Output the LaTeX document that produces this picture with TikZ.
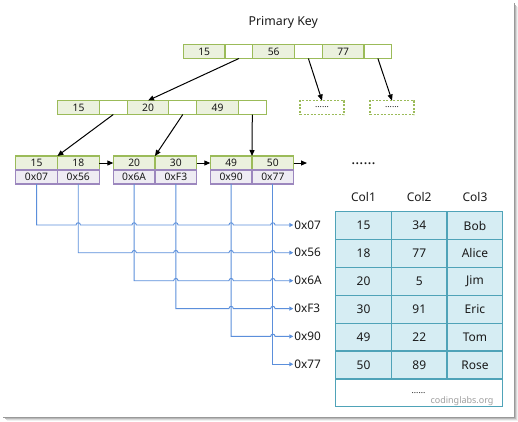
\documentclass[tikz,border=0pt]{standalone}
\usepackage{fontspec}
\setmainfont{Noto Sans}
\usetikzlibrary{arrows.meta,calc}
\definecolor{kgreen}{HTML}{9BBB59}
\definecolor{kfill}{HTML}{EBF1DE}
\definecolor{purp}{HTML}{9C87BE}
\definecolor{pfill}{HTML}{EEECF3}
\definecolor{blu}{HTML}{5B8FDB}
\definecolor{tfill}{HTML}{D6EDF3}
\definecolor{tline}{HTML}{4FA3B8}
\definecolor{txt}{HTML}{1A1A1A}
\begin{document}
\begin{tikzpicture}[x=1pt,y=-1pt,
  every node/.style={text=txt},
  cellbase/.style={line width=1.1pt, inner sep=0pt, outer sep=0pt, minimum height=14pt, anchor=west,
    font=\fontsize{10.3}{11}\selectfont},
  kc/.style={cellbase, draw=kgreen, fill=kfill, minimum width=41.7pt},
  pc/.style={cellbase, draw=kgreen, fill=white, minimum width=27.8pt},
  dc/.style={cellbase, draw=purp, fill=pfill, minimum width=41.7pt},
  dashbox/.style={cellbase, draw=kgreen, dash pattern=on 2pt off 1.5pt, fill=white, minimum width=44pt, font=\fontsize{8.5}{10}\selectfont},
  blk/.style={line width=1pt, -{Triangle[length=6pt,width=5pt]}},
  bl/.style={line width=0.9pt, draw=blu, -{Triangle[length=4pt,width=4pt]}},
  addr/.style={anchor=west, inner sep=0pt, outer sep=0pt, font=\fontsize{11.8}{13}\selectfont},
  tc/.style={fill=tfill, minimum width=55.7pt, minimum height=27.86pt,
    inner sep=0pt, outer sep=0pt, anchor=north west, font=\fontsize{12}{13}\selectfont},
  grid/.style={draw=tline, line width=1.3pt},
  hd/.style={font=\fontsize{12}{13}\selectfont, inner sep=0pt}
]
\fill[white] (0,0) rectangle (518,421);
\useasboundingbox (0,0) rectangle (518,421);

% frame shadow
\draw[gray!80, line width=1pt] (514,3) -- (514,417) -- (3,417);
\draw[gray!55, line width=1pt] (515.2,5) -- (515.2,418.2) -- (5,418.2);
\draw[gray!30, line width=1pt] (516.4,6) -- (516.4,419.4) -- (6,419.4);
\draw[gray!12, line width=1pt] (517.5,7) -- (517.5,420.5) -- (7,420.5);

% title
\node[font=\fontsize{12.3}{14}\selectfont, inner sep=0pt] (title) at (283.3,22.7) {Primary Key};

% root
\node[kc] (t1) at (183.3,51.5) {15};
\node[pc] (t2) at (225,51.5) {};
\node[kc] (t3) at (252.8,51.5) {56};
\node[pc] (t4) at (294.5,51.5) {};
\node[kc] (t5) at (322.3,51.5) {77};
\node[pc] (t6) at (364,51.5) {};

% level 2
\node[kc] (m1) at (57.7,107.5) {15};
\node[pc] (m2) at (99.4,107.5) {};
\node[kc] (m3) at (127.2,107.5) {20};
\node[pc] (m4) at (168.9,107.5) {};
\node[kc] (m5) at (196.7,107.5) {49};
\node[pc] (m6) at (238.4,107.5) {};

\node[dashbox] (x1) at (300,107.5) {......};
\node[dashbox] (x2) at (370,107.5) {......};

% leaves
\node[kc] (k1) at (15.7,163) {15};
\node[kc] (k2) at (57.4,163) {18};
\node[kc] (k3) at (113.3,163) {20};
\node[kc] (k4) at (155,163) {30};
\node[kc] (k5) at (210.3,163) {49};
\node[kc] (k6) at (252,163) {50};
\node[dc] (d1) at (15.7,177) {0x07};
\node[dc] (d2) at (57.4,177) {0x56};
\node[dc] (d3) at (113.3,177) {0x6A};
\node[dc] (d4) at (155,177) {0xF3};
\node[dc] (d5) at (210.3,177) {0x90};
\node[dc] (d6) at (252,177) {0x77};
\coordinate (lend) at (307,163);

% black arrows
\draw[blk] (t2.south) -- (m3.north);
\draw[blk] (t4.south) -- (x1.north);
\draw[blk] (t6.south) -- (x2.north);
\draw[blk] (m2.south) -- (k1.north east);
\draw[blk] (m4.south) -- (k3.north east);
\draw[blk] (m6.south) -- (k5.north east);
\draw[blk] (k2.east) -- (k3.west);
\draw[blk] (k4.east) -- (k5.west);
\draw[blk] (k6.east) -- (lend);

% address labels
\node[addr] (a1) at (294.3,225) {0x07};
\node[addr] (a2) at (294.3,252.7) {0x56};
\node[addr] (a3) at (294.3,280.7) {0x6A};
\node[addr] (a4) at (294.3,308.6) {0xF3};
\node[addr] (a5) at (294.3,336.4) {0x90};
\node[addr] (a6) at (294.3,364.2) {0x77};

% blue pointer lines with hops
\draw[bl] (d1.south) -- (d1.south |- a1.west)
  \foreach \j in {2,3,4,5,6}{ -- ($(d\j.south |- a1.west)+(-2.2pt,0)$) .. controls +(0,-3) and +(0,-3) .. ($(d\j.south |- a1.west)+(2.2pt,0)$)}
  -- ($(a1.west)+(-1pt,0)$);
\draw[bl] (d2.south) -- (d2.south |- a2.west)
  \foreach \j in {3,4,5,6}{ -- ($(d\j.south |- a2.west)+(-2.2pt,0)$) .. controls +(0,-3) and +(0,-3) .. ($(d\j.south |- a2.west)+(2.2pt,0)$)}
  -- ($(a2.west)+(-1pt,0)$);
\draw[bl] (d3.south) -- (d3.south |- a3.west)
  \foreach \j in {4,5,6}{ -- ($(d\j.south |- a3.west)+(-2.2pt,0)$) .. controls +(0,-3) and +(0,-3) .. ($(d\j.south |- a3.west)+(2.2pt,0)$)}
  -- ($(a3.west)+(-1pt,0)$);
\draw[bl] (d4.south) -- (d4.south |- a4.west)
  \foreach \j in {5,6}{ -- ($(d\j.south |- a4.west)+(-2.2pt,0)$) .. controls +(0,-3) and +(0,-3) .. ($(d\j.south |- a4.west)+(2.2pt,0)$)}
  -- ($(a4.west)+(-1pt,0)$);
\draw[bl] (d5.south) -- (d5.south |- a5.west)
  -- ($(d6.south |- a5.west)+(-2.2pt,0)$) .. controls +(0,-3) and +(0,-3) .. ($(d6.south |- a5.west)+(2.2pt,0)$)
  -- ($(a5.west)+(-1pt,0)$);
\draw[bl] (d6.south) -- (d6.south |- a6.west) -- ($(a6.west)+(-1pt,0)$);

% table
\node[font=\fontsize{15}{16}\bfseries, inner sep=0pt] (dots) at (363.5,164) {......};
\node[hd] (h1) at (363.5,196.7) {Col1};
\node[hd] (h2) at (419.2,196.7) {Col2};
\node[hd] (h3) at (475,196.7) {Col3};
\foreach \r/\a/\b/\c [count=\n from 0] in {1/15/34/Bob,2/18/77/Alice,3/20/5/Jim,4/30/91/Eric,5/49/22/Tom,6/50/89/Rose}{
  \node[tc] (r\r c1) at (335.7,211.7+27.86*\n) {\a};
  \node[tc] (r\r c2) at (391.4,211.7+27.86*\n) {\b};
  \node[tc] (r\r c3) at (447.1,211.7+27.86*\n) {\c};
}
\node[tc, fill=white, minimum width=167.1pt] (rlast) at (335.7,378.86) {};
% grid
\draw[grid] (r1c1.north west) rectangle (rlast.south east);
\foreach \r in {1,...,6}{ \draw[grid] (r\r c1.south west) -- (r\r c3.south east); }
\draw[grid] (r1c1.north east) -- (r6c1.south east);
\draw[grid] (r1c2.north east) -- (r6c2.south east);
\node[font=\fontsize{8.5}{10}\selectfont, inner sep=0pt] (bdots) at (418.5,393) {......};
\node[font=\fontsize{9}{10}\selectfont, inner sep=0pt, text=gray!75] (site) at (462,400.7) {codinglabs.org};
\end{tikzpicture}
\end{document}
